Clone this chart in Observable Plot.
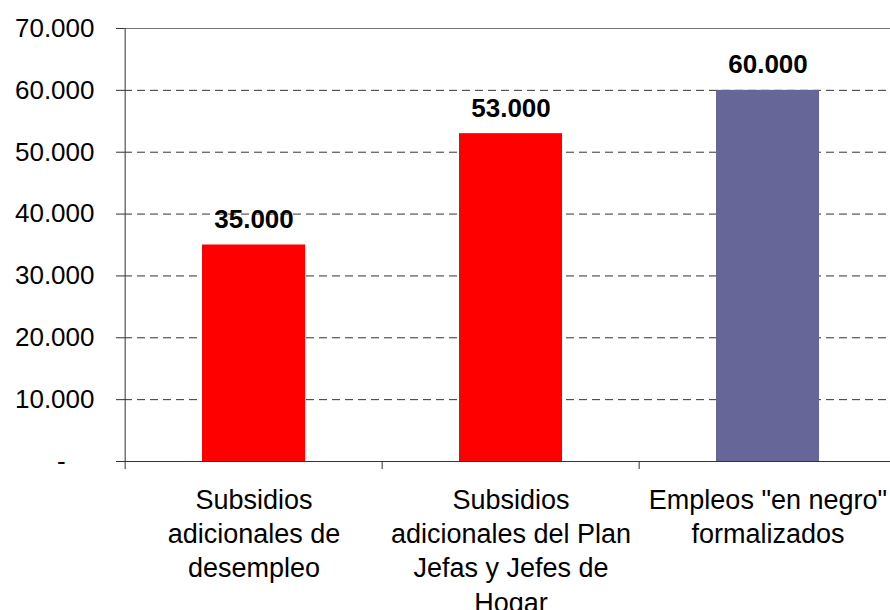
<!DOCTYPE html>
<html><head><meta charset="utf-8">
<script src="https://cdn.jsdelivr.net/npm/d3@7"></script>
<script src="https://cdn.jsdelivr.net/npm/@observablehq/plot@0.6"></script>
<style>body{margin:0;background:#fff;overflow:hidden} svg{display:block}</style>
</head><body><div id="chart"></div>
<script>
const categories = [
  "Subsidios\nadicionales de\ndesempleo",
  "Subsidios\nadicionales del Plan\nJefas y Jefes de\nHogar",
  "Empleos \"en negro\"\nformalizados"
];
const values = [35000, 53000, 60000];
const colors = ["#FF0000", "#FF0000", "#666699"];
const yTicks = [0, 10000, 20000, 30000, 40000, 50000, 60000, 70000];
const gridTicks = [10000, 20000, 30000, 40000, 50000, 60000];

const data = categories.map((c, i) => ({category: c, value: values[i], color: colors[i]}));
const W = 890, H = 610, mL = 124, mR = -7, mT = 28, mB = 149;
const step = (W - mR - mL) / categories.length;
const fmt = v => v === 0 ? "-\u00a0\u00a0\u00a0\u00a0" : d3.format(",")(v).replace(/,/g, ".");

const chart = Plot.plot({
  width: W, height: H,
  marginLeft: mL, marginRight: mR, marginTop: mT, marginBottom: mB,
  style: {fontFamily: "'Liberation Sans', Arial, sans-serif", fontSize: "26px", color: "#000", background: "#fff"},
  x: {domain: categories, paddingInner: 0.6, paddingOuter: 0.3, axis: null},
  y: {domain: [0, 70000], axis: null},
  color: {type: "identity"},
  marks: [
    Plot.ruleY(gridTicks, {stroke: "#333", strokeWidth: 1, strokeDasharray: "8,5"}),
    Plot.ruleY([70000], {stroke: "#777", strokeWidth: 1}),
    Plot.barY(data, {x: "category", y: "value", fill: "color"}),
    Plot.ruleY([0], {stroke: "#333", strokeWidth: 1}),
    Plot.ruleX([categories[0]], {dx: -step / 2, y1: 0, y2: 70000, stroke: "#333", strokeWidth: 1}),
    Plot.axisY(yTicks, {tickSize: 8, tickPadding: 22, tickFormat: fmt, fontSize: 26, stroke: "#333", label: null}),
    Plot.axisX(categories, {tickSize: 8, tickFormat: () => "", dx: -step / 2, stroke: "#333", label: null}),
    Plot.axisX(categories, {tickSize: 0, tickPadding: 23, fontSize: 27, lineHeight: 1.27, label: null}),
    Plot.text(data, {x: "category", y: "value", text: d => fmt(d.value), dy: -17, lineAnchor: "bottom", fontWeight: "bold", fontSize: 26})
  ]
});
document.getElementById("chart").appendChild(chart);
</script>
</body></html>
